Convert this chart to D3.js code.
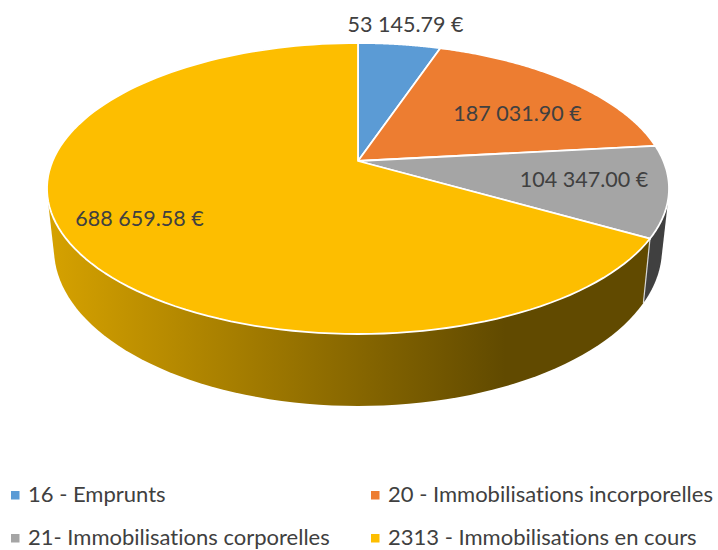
<!DOCTYPE html>
<html>
<head>
<meta charset="utf-8">
<script src="https://cdn.jsdelivr.net/npm/d3@7"></script>
<style>
  html, body { margin: 0; padding: 0; background: #fff; }
  text { font-family: Lato, "Open Sans", sans-serif; fill: #404040; font-variant-ligatures: none; }
</style>
</head>
<body>
<svg id="chart" width="718" height="550"></svg>
<script>
const categories = ["16 - Emprunts", "20 - Immobilisations incorporelles", "21- Immobilisations corporelles", "2313 - Immobilisations en cours"];
const values = [53145.79, 187031.90, 104347.00, 688659.58];
const valueLabels = ["53 145.79 €", "187 031.90 €", "104 347.00 €", "688 659.58 €"];
const colors = ["#5b9bd5", "#ed7d31", "#a5a5a5", "#fdbe00"];

const svg = d3.select("#chart");

// perspective disc: top face and the lower rim of the pie
const topDisc = {x: 358, y: 161, a: 305.4, b: 140.3, k: 0.189};
const lowDisc = {x: 358, y: 219.3, a: 298.5, b: 151.4, k: 0.189};

function project(disc, angle) {
  const u = Math.sin(angle), v = Math.cos(angle), w = 1 + disc.k * v;
  return [disc.x + disc.a * u / w, disc.y - disc.b * v / w];
}

function arcAngles(start, end) {
  return d3.range(0, 121).map(i => start + (end - start) * i / 120);
}

const pie = d3.pie().sort(null)(values);
const line = d3.line();

const defs = svg.append("defs");
const grad = defs.append("linearGradient")
  .attr("id", "yellowWall")
  .attr("gradientUnits", "userSpaceOnUse")
  .attr("x1", 47).attr("x2", 650).attr("y1", 0).attr("y2", 0);
grad.append("stop").attr("offset", "0").attr("stop-color", "#d6a200");
grad.append("stop").attr("offset", "0.76").attr("stop-color", "#614a00");
grad.append("stop").attr("offset", "1").attr("stop-color", "#614a00");

// walls: hull of both rims so the sides run tangent to the discs
const wallFill = ["#2f5d86", "#8a4a1c", "#404040", "url(#yellowWall)"];
const walls = svg.append("g");
[2, 3].forEach(i => {
  const d = pie[i];
  const ang = arcAngles(d.startAngle, d.endAngle);
  const pts = ang.map(t => project(topDisc, t)).concat(ang.map(t => project(lowDisc, t)));
  walls.append("path")
    .attr("d", line(d3.polygonHull(pts)) + "Z")
    .attr("fill", wallFill[i]);
});

// edge between the two visible walls
walls.append("path")
  .attr("d", line([project(topDisc, pie[2].endAngle), project(lowDisc, pie[2].endAngle)]))
  .attr("stroke", "#d9d9d9")
  .attr("stroke-width", 1.2)
  .attr("fill", "none");

// top face
svg.append("g").selectAll("path")
  .data(pie)
  .enter()
  .append("path")
  .attr("d", d => {
    const rim = arcAngles(d.startAngle, d.endAngle).map(t => project(topDisc, t));
    return line([[topDisc.x, topDisc.y]].concat(rim)) + "Z";
  })
  .attr("fill", (d, i) => colors[i])
  .attr("stroke", "#fff")
  .attr("stroke-width", 1.8)
  .attr("stroke-linejoin", "round");

// value labels
const labelPos = [[405.5, 32], [517.5, 121], [584, 187], [139.5, 226]];
svg.append("g").selectAll("text")
  .data(valueLabels)
  .enter()
  .append("text")
  .attr("x", (d, i) => labelPos[i][0])
  .attr("y", (d, i) => labelPos[i][1])
  .attr("text-anchor", "middle")
  .style("font-size", "21.5px")
  .text(d => d);

// legend
const legendPos = [[11, 502], [371, 502], [11, 545], [371, 545]];
const legend = svg.append("g").selectAll("g")
  .data(categories)
  .enter()
  .append("g")
  .attr("transform", (d, i) => `translate(${legendPos[i][0]},${legendPos[i][1]})`);
legend.append("rect")
  .attr("x", 0).attr("y", -11).attr("width", 8.5).attr("height", 8.5)
  .attr("fill", (d, i) => colors[i]);
legend.append("text")
  .attr("x", 17)
  .style("font-size", "22px")
  .text(d => d);
</script>
</body>
</html>
